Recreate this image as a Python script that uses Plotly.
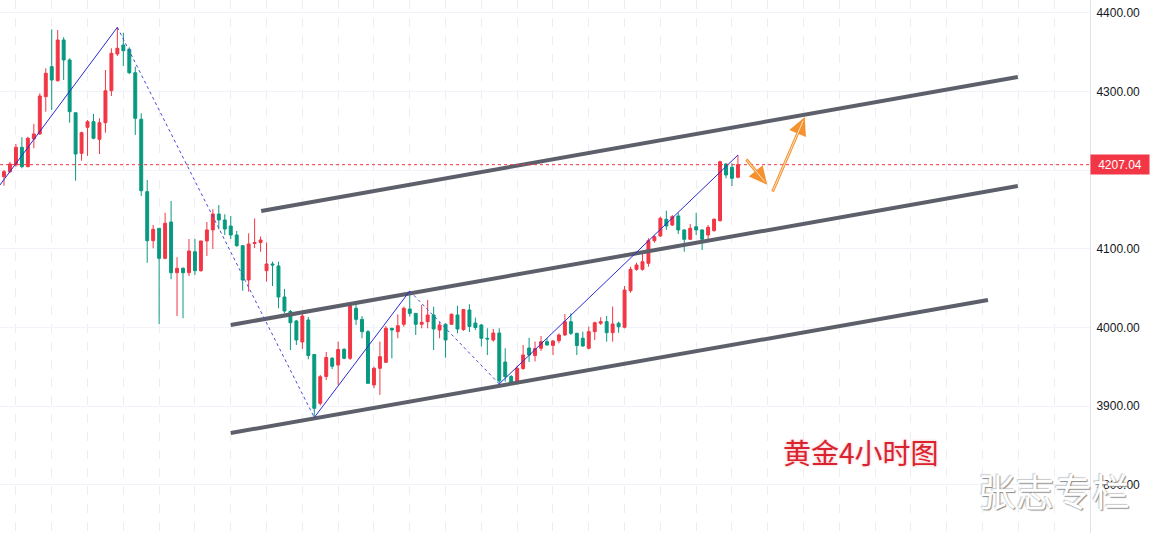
import plotly.graph_objects as go

# ---- Candle data (4H gold), index = bar number ----
opens = [4191.7, 4198.1, 4206.6, 4229.1, 4204.5, 4239.7, 4246.1, 4293.5, 4331.7, 4313.8,
         4365.6, 4340.2, 4273.1, 4221.5, 4254.6, 4261.7, 4239.3, 4260.4, 4301.1, 4347.8,
         4359.3, 4353.8, 4324.0, 4264.8, 4172.7, 4110.3, 4126.1, 4087.9, 4134.1, 4069.6,
         4075.2, 4069.6, 4096.3, 4072.2, 4110.0, 4124.0, 4144.3, 4136.7, 4129.0, 4117.6,
         4104.0, 4060.3, 4106.8, 4108.0, 4072.2, 4080.7, 4078.2, 4038.7, 4020.3, 4008.2,
         3981.5, 4009.5, 3965.6, 3903.5, 3937.6, 3960.7, 3952.2, 3972.2, 3960.7, 4024.3,
         4010.3, 3994.6, 3926.8, 3948.0, 3955.7, 3998.9, 3994.6, 4004.0, 4023.4, 4017.9,
         4004.0, 4007.3, 4015.8, 3996.7, 4004.0, 4004.0, 4015.8, 3997.4, 4022.2, 4005.6,
         4003.1, 3986.2, 3984.0, 3992.9, 3956.0, 3937.6, 3931.9, 3947.8, 3973.8, 3964.3,
         3973.5, 3981.9, 3977.1, 3983.1, 3990.4, 4007.3, 3992.5, 3986.2, 3973.5, 3994.6,
         4005.3, 4007.3, 3993.3, 4005.3, 4000.2, 4046.7, 4073.9, 4073.9, 4081.6, 4110.3,
         4116.3, 4137.6, 4130.3, 4141.8, 4124.0, 4112.1, 4128.1, 4124.0, 4117.6, 4123.1,
         4135.8, 4207.9, 4203.7, 4191.0]
highs = [4200.3, 4210.8, 4233.3, 4241.9, 4242.6, 4258.8, 4297.8, 4329.6, 4379.2, 4378.3,
         4369.1, 4342.3, 4273.1, 4249.0, 4263.9, 4271.5, 4266.0, 4327.5, 4355.1, 4381.8,
         4374.9, 4356.3, 4331.7, 4272.4, 4187.5, 4130.3, 4126.1, 4145.9, 4160.8, 4089.2,
         4076.5, 4112.5, 4112.5, 4110.0, 4134.1, 4150.3, 4155.7, 4143.9, 4141.8, 4122.7,
         4104.0, 4119.7, 4138.6, 4115.7, 4108.0, 4083.6, 4083.6, 4048.9, 4022.2, 4009.5,
         4020.9, 4013.3, 3966.2, 3939.5, 3968.8, 3962.4, 3982.1, 3973.5, 4029.8, 4029.8,
         4014.5, 3996.7, 3950.1, 3981.9, 4001.8, 3999.3, 4016.7, 4026.4, 4046.3, 4017.9,
         4028.5, 4034.9, 4026.4, 4007.3, 4005.3, 4017.9, 4027.6, 4023.4, 4029.4, 4012.4,
         4004.4, 3998.9, 3998.0, 3998.9, 3973.5, 3939.5, 3951.3, 3977.7, 3986.8, 3982.1,
         3989.1, 3986.2, 3984.0, 3992.5, 4017.1, 4017.9, 3993.3, 3994.6, 4000.9, 4007.3,
         4012.9, 4014.5, 4026.4, 4007.3, 4052.7, 4077.3, 4082.3, 4096.3, 4113.4, 4117.6,
         4140.9, 4148.5, 4143.0, 4145.9, 4124.8, 4131.6, 4145.9, 4124.8, 4130.3, 4138.8,
         4212.1, 4208.8, 4208.8, 4219.3]
lows = [4180.3, 4196.1, 4204.5, 4202.4, 4203.7, 4227.9, 4244.8, 4274.4, 4276.6, 4312.6,
        4314.7, 4260.4, 4186.6, 4212.1, 4218.1, 4239.3, 4220.6, 4247.7, 4294.4, 4345.3,
        4332.5, 4322.4, 4244.8, 4167.2, 4082.3, 4100.7, 4004.4, 4086.7, 4061.2, 4014.5,
        4011.6, 4065.4, 4066.7, 4070.9, 4090.9, 4099.8, 4124.8, 4117.6, 4112.5, 4102.7,
        4046.7, 4045.5, 4101.0, 4096.3, 4058.2, 4052.7, 4024.3, 4018.0, 3971.3, 3977.7,
        3972.6, 3959.5, 3885.4, 3900.7, 3933.1, 3947.1, 3926.8, 3959.5, 3958.6, 4003.1,
        3986.2, 3928.1, 3922.6, 3914.1, 3954.8, 3960.7, 3986.2, 4000.9, 4013.6, 3990.4,
        3998.9, 3998.9, 3971.3, 3986.2, 3961.5, 4003.1, 3992.5, 3995.5, 3994.2, 3996.7,
        3975.8, 3964.9, 3981.9, 3928.1, 3931.0, 3927.7, 3927.7, 3945.9, 3956.0, 3956.7,
        3970.0, 3976.8, 3964.9, 3979.8, 3989.1, 3990.4, 3964.9, 3975.5, 3972.2, 3984.0,
        4003.1, 3981.9, 3981.9, 3993.3, 3998.9, 4044.2, 4072.2, 4072.2, 4077.3, 4107.8,
        4115.4, 4124.0, 4129.0, 4118.9, 4096.3, 4111.2, 4117.6, 4098.5, 4112.1, 4121.8,
        4134.5, 4189.7, 4179.9, 4189.7]
closes = [4198.1, 4207.9, 4229.1, 4204.5, 4240.6, 4246.1, 4294.4, 4323.3, 4314.7, 4365.6,
          4340.2, 4274.4, 4220.6, 4247.7, 4261.7, 4240.6, 4260.4, 4301.1, 4348.7, 4355.1,
          4352.0, 4324.0, 4266.0, 4173.9, 4110.3, 4124.8, 4087.9, 4132.5, 4069.6, 4075.2,
          4069.6, 4097.2, 4072.2, 4110.0, 4124.0, 4144.3, 4136.7, 4125.2, 4117.6, 4104.0,
          4060.3, 4106.1, 4108.0, 4111.2, 4080.7, 4079.4, 4038.7, 4020.9, 4006.0, 3984.0,
          4014.5, 3964.3, 3897.1, 3937.3, 3961.8, 3950.6, 3971.9, 3960.7, 4028.5, 4010.3,
          3994.6, 3928.9, 3948.0, 3962.8, 3998.9, 3996.7, 4002.2, 4024.3, 4017.9, 4004.0,
          4006.5, 4015.8, 3998.0, 4003.1, 3984.0, 4016.7, 3998.0, 4022.8, 4001.2, 3999.9,
          3986.2, 3985.3, 3992.9, 3931.9, 3937.3, 3929.9, 3948.0, 3964.9, 3964.9, 3973.2,
          3981.9, 3977.7, 3982.7, 3990.4, 4007.3, 3992.5, 3977.0, 3976.4, 3994.6, 4006.0,
          4007.3, 3993.3, 4004.4, 4000.9, 4047.6, 4073.9, 4079.4, 4083.6, 4110.3, 4115.4,
          4138.8, 4129.0, 4140.9, 4124.0, 4112.1, 4126.1, 4124.0, 4112.1, 4127.4, 4137.6,
          4210.8, 4193.9, 4189.7, 4207.04]
bars = list(range(len(closes)))
last_price = 4207.04

# ---- Drawn analysis lines (bar index, price) ----
wave_up_legs = [
    ([-0.7, 19], [4181.0, 4381.8]),
    ([52, 68], [3885.4, 4046.3]),
    ([83, 123], [3928.1, 4219.3]),
]
wave_down_legs = [
    ([19, 52], [4381.8, 3885.4]),
    ([68, 83], [4046.3, 3928.1]),
]
channel_lines = [
    ([43.1, 169.9], [4148.1, 4318.6]),
    ([38.0, 169.9], [4003.1, 4179.9]),
    ([38.0, 164.9], [3865.7, 4034.9]),
]
arrow_down = ((124.2, 4215.5), (127.9, 4181.5))
arrow_up = ((128.7, 4171.0), (134.2, 4267.7))

y_ticks = [3800, 3900, 4000, 4100, 4200, 4300, 4400]
title_text = "黄金4小时图"
watermark = "张志专栏"

RED = "#F23645"
GREEN = "#089981"

fig = go.Figure()
fig.add_trace(go.Candlestick(
    x=bars, open=opens, high=highs, low=lows, close=closes,
    increasing=dict(line=dict(color=RED, width=1), fillcolor=RED),
    decreasing=dict(line=dict(color=GREEN, width=1), fillcolor=GREEN),
    whiskerwidth=0, showlegend=False, hoverinfo="skip",
))

for xs, ys in channel_lines:
    fig.add_trace(go.Scatter(x=xs, y=ys, mode="lines",
                             line=dict(color="#5d606b", width=4),
                             showlegend=False, hoverinfo="skip"))
for xs, ys in wave_down_legs:
    fig.add_trace(go.Scatter(x=xs, y=ys, mode="lines",
                             line=dict(color="#4a4ad6", width=1, dash="dot"),
                             showlegend=False, hoverinfo="skip"))
for xs, ys in wave_up_legs:
    fig.add_trace(go.Scatter(x=xs, y=ys, mode="lines",
                             line=dict(color="#2a2ad0", width=1),
                             showlegend=False, hoverinfo="skip"))

fig.add_shape(type="line", xref="paper", x0=0, x1=1, yref="y",
              y0=last_price, y1=last_price,
              line=dict(color=RED, width=1, dash="dot"))

# hollow-looking orange arrows: orange outline with a light core
for (x0, y0), (x1, y1) in (arrow_down, arrow_up):
    fig.add_annotation(x=x1, y=y1, ax=x0, ay=y0, xref="x", yref="y",
                       axref="x", ayref="y", text="", showarrow=True,
                       arrowhead=2, arrowsize=1.2, arrowwidth=3,
                       arrowcolor="#F5922F")
    fig.add_annotation(x=x1, y=y1, ax=x0, ay=y0, xref="x", yref="y",
                       axref="x", ayref="y", text="", showarrow=True,
                       arrowhead=0, arrowwidth=1, standoff=4, startstandoff=1,
                       arrowcolor="#FDE3C8")

fig.add_annotation(xref="paper", x=1, xanchor="left", yref="y", y=last_price,
                   text=f"{last_price:.2f}", showarrow=False,
                   bgcolor=RED, width=56, height=17,
                   font=dict(family="Liberation Sans, Arial", size=12, color="white"))

fig.add_annotation(xref="x", x=143.6, xanchor="center", yref="y", y=3841.6,
                   text=title_text, showarrow=False,
                   font=dict(family="Noto Sans CJK SC", size=28, color="#D9232E",
                             shadow="0px 0px 3px #F4B4B8"))

fig.add_annotation(xref="paper", x=0.967, xanchor="center", yref="paper", y=0.081,
                   yanchor="middle", text=watermark, showarrow=False,
                   font=dict(family="Noto Sans CJK SC", size=38, color="#FFFFFF",
                             shadow="1px 1px 1px #8a8a8a, -1px -1px 1px #c8c8c8"))

fig.update_layout(
    width=1150, height=533,
    margin=dict(l=0, r=60, t=0, b=0),
    paper_bgcolor="white", plot_bgcolor="white",
    showlegend=False,
    xaxis=dict(range=[-0.67, 182.0], rangeslider=dict(visible=False),
               showticklabels=False, tick0=2, dtick=6, showgrid=True,
               gridcolor="#eceef2", griddash="dash", zeroline=False,
               showline=False),
    yaxis=dict(range=[3738.5, 4416.5], side="right", tickvals=y_ticks,
               tickformat=".2f", showgrid=True, gridcolor="#f0f3fa",
               zeroline=False, showline=True, linecolor="#e0e3eb",
               ticks="", ticklabelstandoff=3,
               tickfont=dict(family="Liberation Sans, Arial", size=12,
                             color="#131722")),
)

fig.write_html("out.html", config={"displayModeBar": False},
               post_script="document.body.style.margin='0px';")
